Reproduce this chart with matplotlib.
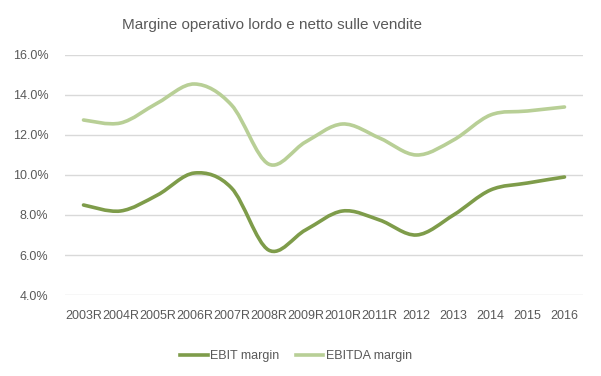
import matplotlib
matplotlib.use('Agg')

import matplotlib.pyplot as plt
from matplotlib.path import Path
from matplotlib.patches import PathPatch
from matplotlib.lines import Line2D
from matplotlib.ticker import PercentFormatter
import numpy as np

# Data
years = ['2003R', '2004R', '2005R', '2006R', '2007R', '2008R', '2009R',
         '2010R', '2011R', '2012', '2013', '2014', '2015', '2016']
ebit = [8.5, 8.2, 9.0, 10.1, 9.35, 6.25, 7.25, 8.2, 7.75, 7.0, 8.0, 9.25, 9.6, 9.9]
ebitda = [12.75, 12.6, 13.6, 14.55, 13.5, 10.55, 11.65, 12.55, 11.85, 11.0,
          11.75, 13.0, 13.2, 13.4]

EBIT_COLOR = '#7E9C4A'
EBITDA_COLOR = '#B8CF96'
TEXT_COLOR = '#595959'

plt.rcParams['font.family'] = ['Liberation Sans', 'DejaVu Sans']


# Excel-style smoothed line: cubic Bezier segments through every point
def smooth_path(xs, ys):
    pts = np.column_stack([xs, ys]).astype(float)
    n = len(pts)
    verts = [pts[0]]
    codes = [Path.MOVETO]
    for i in range(n - 1):
        p0 = pts[i - 1] if i > 0 else pts[i]
        p1 = pts[i]
        p2 = pts[i + 1]
        p3 = pts[i + 2] if i + 2 < n else pts[i + 1]
        c1 = p1 + (p2 - p0) / 6.0
        c2 = p2 - (p3 - p1) / 6.0
        verts += [c1, c2, p2]
        codes += [Path.CURVE4] * 3
    return Path(verts, codes)


fig = plt.figure(figsize=(6.01, 3.76), dpi=100)
ax = fig.add_axes([65 / 601, 1 - 295 / 376, (583 - 65) / 601, (295 - 55) / 376])

x = np.arange(len(years))
for vals, col in [(ebit, EBIT_COLOR), (ebitda, EBITDA_COLOR)]:
    ax.add_patch(PathPatch(smooth_path(x, vals), facecolor='none',
                           edgecolor=col, lw=2.6, capstyle='round'))

ax.set_xlim(-0.5, len(years) - 0.5)
ax.set_ylim(4, 16)
ax.set_yticks(np.arange(4, 16.1, 2))
ax.yaxis.set_major_formatter(PercentFormatter(decimals=1))
ax.set_xticks(x)
ax.set_xticklabels(years)
ax.tick_params(axis='both', length=0, labelsize=9, colors=TEXT_COLOR)
ax.tick_params(axis='x', pad=11)
ax.tick_params(axis='y', pad=12)
ax.grid(axis='y', color='#D9D9D9', lw=1)
ax.set_axisbelow(True)
for s in ax.spines.values():
    s.set_visible(False)

fig.text(272 / 601, 1 - 25 / 376, 'Margine operativo lordo e netto sulle vendite',
         ha='center', va='center', fontsize=11, color=TEXT_COLOR)

handles = [Line2D([], [], color=EBIT_COLOR, lw=2.6),
           Line2D([], [], color=EBITDA_COLOR, lw=2.6)]
fig.legend(handles, ['EBIT margin', 'EBITDA margin'], loc='center',
           bbox_to_anchor=(296 / 601, 1 - 356 / 376), ncol=2, frameon=False,
           fontsize=9, labelcolor=TEXT_COLOR, handlelength=2.2,
           handletextpad=0.2, columnspacing=1.3)

fig.savefig('out.png', dpi=100)
